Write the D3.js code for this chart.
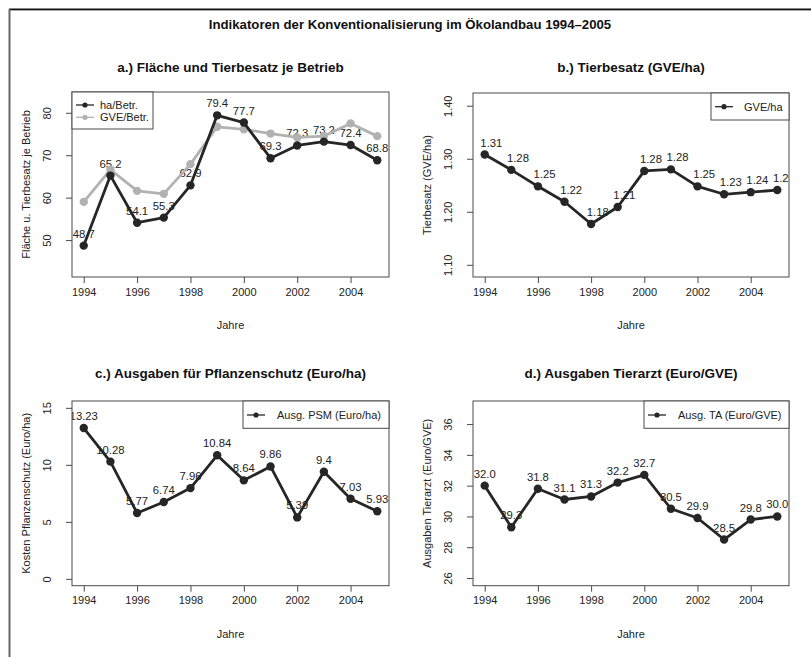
<!DOCTYPE html>
<html>
<head>
<meta charset="utf-8">
<script src="https://cdn.jsdelivr.net/npm/d3@7"></script>
<style>
  body { margin: 0; background: #fff; }
  svg { display: block; font-family: "Liberation Sans", Arial, Helvetica, sans-serif; }
</style>
</head>
<body>
<svg id="chart" width="811" height="657"></svg>
<script>
// ---------- data ----------
const years = [1994, 1995, 1996, 1997, 1998, 1999, 2000, 2001, 2002, 2003, 2004, 2005];
const haBetr = [48.7, 65.2, 54.1, 55.3, 62.9, 79.4, 77.7, 69.3, 72.3, 73.2, 72.4, 68.8];
const gveBetr = [59.0, 66.6, 61.6, 60.9, 67.9, 76.7, 76.1, 75.1, 74.2, 74.5, 77.5, 74.5];
const gveHa = [1.308, 1.279, 1.248, 1.219, 1.177, 1.209, 1.277, 1.280, 1.248, 1.233, 1.237, 1.241];
const psm = [13.23, 10.28, 5.77, 6.74, 7.96, 10.84, 8.64, 9.86, 5.39, 9.4, 7.03, 5.93];
const psmLabels = ["13.23", "10.28", "5.77", "6.74", "7.96", "10.84", "8.64", "9.86", "5.39", "9.4", "7.03", "5.93"];
const ta = [32.0, 29.3, 31.8, 31.1, 31.3, 32.2, 32.7, 30.5, 29.9, 28.5, 29.8, 30.0];
const xTicks = [1994, 1996, 1998, 2000, 2002, 2004];
const yTicksA = [50, 60, 70, 80];
const yTicksB = [1.10, 1.20, 1.30, 1.40];
const yTicksC = [0, 5, 10, 15];
const yTicksD = [26, 28, 30, 32, 34, 36];

const mainTitle = "Indikatoren der Konventionalisierung im Ökolandbau 1994–2005";

const svg = d3.select("#chart");
const DARK = "#262626", GREY = "#b2b2b2", BOX = "#4a4a4a", TXT = "#222";

// outer frame (top and left edges)
svg.append("line").attr("x1", 9).attr("x2", 811).attr("y1", 10.5).attr("y2", 10.5)
  .attr("stroke", "#aaa").attr("stroke-width", 1);
svg.append("line").attr("x1", 9).attr("x2", 811).attr("y1", 9.3).attr("y2", 9.3)
  .attr("stroke", "#111").attr("stroke-width", 1.5);
svg.append("line").attr("x1", 9.5).attr("x2", 9.5).attr("y1", 9).attr("y2", 657)
  .attr("stroke", "#666").attr("stroke-width", 2);

svg.append("text").attr("x", 410).attr("y", 29).attr("text-anchor", "middle")
  .attr("font-size", 13.2).attr("font-weight", "bold").attr("fill", "#111").text(mainTitle);

let clipId = 0;
function panel(cfg) {
  const { x0, x1, y0, y1 } = cfg;
  const x = d3.scaleLinear().domain([1993.56, 2005.44]).range([x0, x1]);
  const y = d3.scaleLinear().domain(cfg.yDomain).range([y1, y0]);
  const g = svg.append("g");

  // title
  g.append("text").attr("x", (x0 + x1) / 2).attr("y", cfg.titleY).attr("text-anchor", "middle")
    .attr("font-size", 13.5).attr("font-weight", "bold").attr("fill", "#111").text(cfg.title);

  // axes
  const xa = g.append("g").attr("transform", `translate(0,${y1})`)
    .call(d3.axisBottom(x).tickValues(xTicks).tickFormat(d3.format("d")).tickSize(6).tickSizeOuter(0).tickPadding(5));
  xa.select(".domain").remove();
  xa.selectAll("line").attr("stroke", BOX);
  xa.selectAll("text").attr("font-size", 11).attr("fill", TXT).attr("font-family", null);

  const ya = g.append("g").attr("transform", `translate(${x0},0)`)
    .call(d3.axisLeft(y).tickValues(cfg.yTicks).tickFormat(cfg.yFmt).tickSize(6).tickSizeOuter(0));
  ya.select(".domain").remove();
  ya.selectAll("line").attr("stroke", BOX);
  ya.selectAll("text").attr("font-size", 11).attr("fill", TXT).attr("font-family", null)
    .attr("x", null).attr("dy", null).attr("text-anchor", "middle")
    .attr("transform", `translate(${-25},0) rotate(-90)`).attr("dy", "0.35em");

  // axis titles
  g.append("text").attr("x", (x0 + x1) / 2).attr("y", y1 + 52).attr("text-anchor", "middle")
    .attr("font-size", 11).attr("fill", TXT).text("Jahre");
  g.append("text").attr("transform", `translate(${x0 - 46},${(y0 + y1) / 2}) rotate(-90)`)
    .attr("text-anchor", "middle").attr("dy", "0.35em")
    .attr("font-size", 11).attr("fill", TXT).text(cfg.yTitle);

  // clip
  const id = "clip" + (clipId++);
  svg.append("clipPath").attr("id", id).append("rect")
    .attr("x", x0).attr("y", y0).attr("width", x1 - x0).attr("height", y1 - y0);
  const plot = g.append("g").attr("clip-path", `url(#${id})`);

  // value labels (drawn first, under lines)
  const main = cfg.series[cfg.series.length - 1];
  plot.selectAll("text.lab").data(years).join("text").attr("class", "lab")
    .attr("x", (d) => x(d + cfg.labShift))
    .attr("y", (d, i) => y(main.values[i]) - 8)
    .attr("text-anchor", "middle").attr("font-size", 11.3).attr("fill", TXT)
    .text((d, i) => cfg.labels[i]);

  const line = d3.line().x((d) => x(d[0])).y((d) => y(d[1]));
  cfg.series.forEach((s) => {
    const pts = years.map((yr, i) => [yr, s.values[i]]);
    plot.append("path").attr("d", line(pts)).attr("fill", "none")
      .attr("stroke", s.color).attr("stroke-width", 2.8).attr("stroke-linejoin", "round");
    plot.selectAll(null).data(pts).join("circle")
      .attr("cx", (d) => x(d[0])).attr("cy", (d) => y(d[1])).attr("r", 4.2).attr("fill", s.color);
  });

  // box
  g.append("rect").attr("x", x0).attr("y", y0).attr("width", x1 - x0).attr("height", y1 - y0)
    .attr("fill", "none").attr("stroke", BOX).attr("stroke-width", 1);

  // legend
  const L = cfg.legend;
  g.append("rect").attr("x", L.x).attr("y", y0).attr("width", L.w).attr("height", L.h)
    .attr("fill", "#fff").attr("stroke", BOX).attr("stroke-width", 1);
  cfg.legendItems.forEach((it, k) => {
    const ly = y0 + L.firstY + k * 12.3;
    g.append("line").attr("x1", L.x + 4).attr("x2", L.x + 22).attr("y1", ly).attr("y2", ly)
      .attr("stroke", it.color).attr("stroke-width", 1.3);
    g.append("circle").attr("cx", L.x + 13).attr("cy", ly).attr("r", 2.6).attr("fill", it.color);
    g.append("text").attr("x", L.x + L.textDx).attr("y", ly).attr("dy", "0.35em")
      .attr("font-size", 11).attr("fill", TXT).text(it.name);
  });
}

panel({
  x0: 72, x1: 389, y0: 92, y1: 277, yDomain: [41.3, 84.9], yTicks: yTicksA, yFmt: d3.format("d"),
  title: "a.) Fläche und Tierbesatz je Betrieb", titleY: 71.5, yTitle: "Fläche u. Tierbesatz je Betrieb",
  series: [{ values: gveBetr, color: GREY }, { values: haBetr, color: DARK }],
  labels: haBetr.map((v) => v.toFixed(1)), labShift: 0,
  legend: { x: 72, w: 81, h: 37, firstY: 13, textDx: 28 },
  legendItems: [{ name: "ha/Betr.", color: DARK }, { name: "GVE/Betr.", color: GREY }]
});

panel({
  x0: 473, x1: 789, y0: 93, y1: 277, yDomain: [1.077, 1.424], yTicks: yTicksB, yFmt: d3.format(".2f"),
  title: "b.) Tierbesatz (GVE/ha)", titleY: 71.5, yTitle: "Tierbesatz (GVE/ha)",
  series: [{ values: gveHa, color: DARK }],
  labels: gveHa.map((v) => v.toFixed(2)), labShift: 0.25,
  legend: { x: 711, w: 78, h: 27, firstY: 13.7, textDx: 33 },
  legendItems: [{ name: "GVE/ha", color: DARK }]
});

panel({
  x0: 72, x1: 389, y0: 401, y1: 585.7, yDomain: [-0.6, 15.6], yTicks: yTicksC, yFmt: d3.format("d"),
  title: "c.) Ausgaben für Pflanzenschutz (Euro/ha)", titleY: 378, yTitle: "Kosten Pflanzenschutz (Euro/ha)",
  series: [{ values: psm, color: DARK }],
  labels: psmLabels, labShift: 0,
  legend: { x: 243, w: 146, h: 27.3, firstY: 14, textDx: 34 },
  legendItems: [{ name: "Ausg. PSM (Euro/ha)", color: DARK }]
});

panel({
  x0: 473, x1: 789, y0: 401, y1: 585.7, yDomain: [25.5, 37.5], yTicks: yTicksD, yFmt: d3.format("d"),
  title: "d.) Ausgaben Tierarzt (Euro/GVE)", titleY: 378, yTitle: "Ausgaben Tierarzt (Euro/GVE)",
  series: [{ values: ta, color: DARK }],
  labels: ta.map((v) => v.toFixed(1)), labShift: 0,
  legend: { x: 644, w: 145, h: 27.3, firstY: 14, textDx: 34 },
  legendItems: [{ name: "Ausg. TA (Euro/GVE)", color: DARK }]
});
</script>
</body>
</html>
